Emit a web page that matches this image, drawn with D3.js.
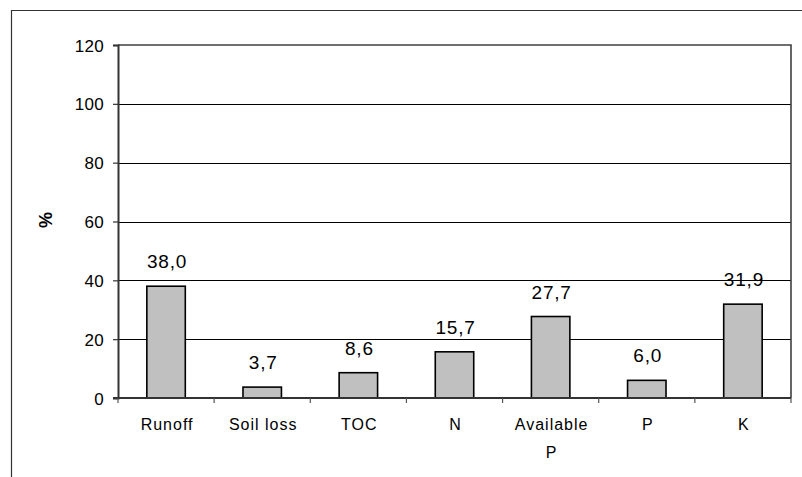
<!DOCTYPE html>
<html>
<head>
<meta charset="utf-8">
<script src="https://cdn.jsdelivr.net/npm/d3@7"></script>
<style>
  html, body { margin: 0; padding: 0; background: #fff; }
  svg { display: block; }
  text { font-family: "Liberation Sans", Arial, sans-serif; fill: #000; }
</style>
</head>
<body>
<svg id="chart" width="802" height="477"></svg>
<script>
// Percentage reduction per measured variable
const categories = ["Runoff", "Soil loss", "TOC", "N", "Available P", "P", "K"];
const categoryLines = [["Runoff"], ["Soil loss"], ["TOC"], ["N"], ["Available", "P"], ["P"], ["K"]];
const values = [38.0, 3.7, 8.6, 15.7, 27.7, 6.0, 31.9];
const yTicks = [0, 20, 40, 60, 80, 100, 120];
const yLabel = "%";

const svg = d3.select("#chart");
const plot = { left: 118, right: 791, top: 45, bottom: 398 };

const locale = d3.formatLocale({ decimal: ",", thousands: ".", grouping: [3], currency: ["", ""] });
const fmt = locale.format(".1f");

const x = d3.scaleBand()
  .domain(categories)
  .range([plot.left, plot.right])
  .paddingInner(0.6)
  .paddingOuter(0.3);

const y = d3.scaleLinear().domain([0, 120]).range([plot.bottom, plot.top]);

// outer chart frame
svg.append("path")
  .attr("d", `M11.5,477 V10.5 H802`)
  .attr("fill", "none")
  .attr("stroke", "#333")
  .attr("stroke-width", 1.2);

// gridlines
svg.append("g")
  .selectAll("line")
  .data(yTicks.filter(t => t > 0 && t < 120))
  .join("line")
  .attr("x1", plot.left).attr("x2", plot.right)
  .attr("y1", d => Math.round(y(d)) + 0.5).attr("y2", d => Math.round(y(d)) + 0.5)
  .attr("stroke", "#000").attr("stroke-width", 1);

// plot-area border (top and right)
svg.append("path")
  .attr("d", `M${plot.left},${y(120)} H${plot.right} V${plot.bottom}`)
  .attr("fill", "none")
  .attr("stroke", "#404040")
  .attr("stroke-width", 1.6);

// bars
svg.append("g")
  .selectAll("rect")
  .data(values)
  .join("rect")
  .attr("x", (d, i) => x(categories[i]))
  .attr("width", x.bandwidth())
  .attr("y", d => y(d))
  .attr("height", d => y(0) - y(d))
  .attr("fill", "#c0c0c0")
  .attr("stroke", "#000")
  .attr("stroke-width", 1.6);

// value labels
svg.append("g")
  .selectAll("text")
  .data(values)
  .join("text")
  .attr("x", (d, i) => x(categories[i]) + x.bandwidth() / 2 + 1)
  .attr("y", d => y(d) - 18)
  .attr("text-anchor", "middle")
  .style("font-size", "19px")
  .style("letter-spacing", "0.8px")
  .text(d => fmt(d));

// y axis
const yAxis = d3.axisLeft(y).tickValues(yTicks).tickSize(5).tickPadding(9);
const gy = svg.append("g").attr("transform", `translate(${plot.left},0)`).call(yAxis);
gy.select(".domain").attr("stroke", "#333").attr("stroke-width", 2);
gy.selectAll(".tick line").attr("stroke", "#333").attr("stroke-width", 1.2);
gy.selectAll(".tick text")
  .attr("dy", "0.36em")
  .style("font-size", "17px")
  .style("letter-spacing", "0.3px")
  .style("font-family", "'Liberation Sans', Arial, sans-serif")
  .attr("fill", "#000");

// x axis line and category separator ticks
svg.append("line")
  .attr("x1", plot.left - 5).attr("x2", plot.right)
  .attr("y1", y(0)).attr("y2", y(0))
  .attr("stroke", "#333").attr("stroke-width", 2);

const step = x.step();
svg.append("g")
  .selectAll("line")
  .data(d3.range(categories.length + 1))
  .join("line")
  .attr("x1", i => plot.left + i * step).attr("x2", i => plot.left + i * step)
  .attr("y1", y(0)).attr("y2", y(0) + 5)
  .attr("stroke", "#555").attr("stroke-width", 1.2);

// category labels
const cat = svg.append("g")
  .selectAll("text")
  .data(categoryLines)
  .join("text")
  .attr("text-anchor", "middle")
  .attr("y", 430)
  .style("font-size", "16px")
  .style("letter-spacing", "1px");
cat.each(function (lines, i) {
  const cx = x(categories[i]) + x.bandwidth() / 2 + 1;
  d3.select(this).selectAll("tspan")
    .data(lines)
    .join("tspan")
    .attr("x", cx)
    .attr("dy", (d, j) => j === 0 ? 0 : 28)
    .text(d => d);
});

// y axis title
svg.append("text")
  .attr("transform", "translate(52,220) rotate(-90)")
  .attr("text-anchor", "middle")
  .style("font-size", "18px")
  .style("font-weight", "bold")
  .text(yLabel);
</script>
</body>
</html>
